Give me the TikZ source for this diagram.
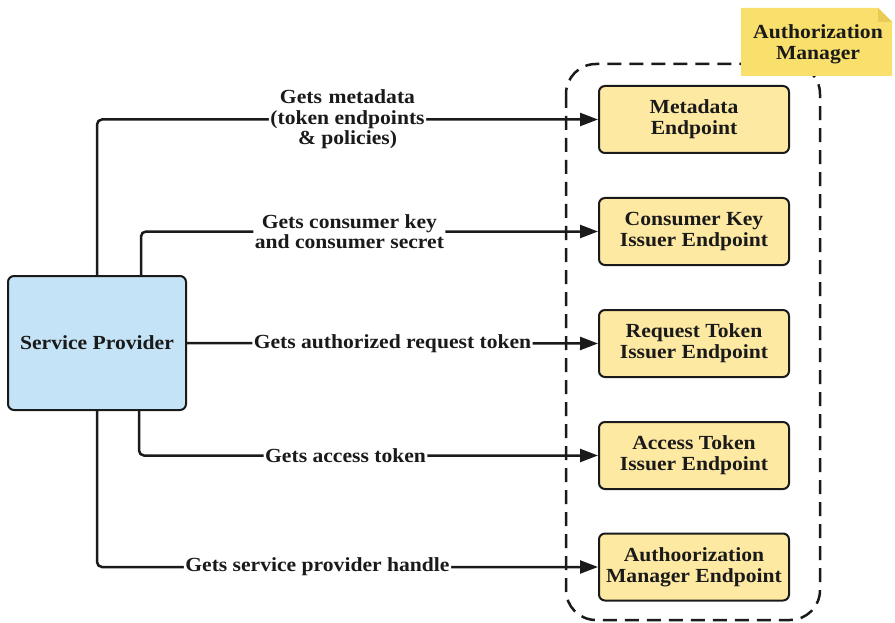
\documentclass[tikz,border=0pt]{standalone}
\usepackage{fontspec}
\setmainfont[FakeStretch=1.08]{Liberation Serif}
\usetikzlibrary{arrows.meta}
\definecolor{spblue}{HTML}{C4E3F6}
\definecolor{epyellow}{HTML}{FDE9A2}
\definecolor{noteyellow}{HTML}{F9DF6B}
\definecolor{notefold}{HTML}{E9CC55}
\definecolor{ink}{HTML}{1A1A1A}
\tikzset{
  spbox/.style={draw=ink, line width=2pt, rounded corners=6pt, fill=spblue, minimum width=178pt, minimum height=134pt, inner sep=0pt, font=\bfseries\fontsize{20}{22}\selectfont, text=ink},
  epbox/.style={draw=ink, line width=2pt, rounded corners=6pt, fill=epyellow, minimum width=190pt, minimum height=67pt, inner sep=0pt, align=center, font=\bfseries\fontsize{20}{21}\selectfont, text=ink},
  lbl/.style={fill=white, inner sep=1.5pt, align=center, font=\bfseries\fontsize{20}{20.5}\selectfont, text=ink},
  conn/.style={draw=ink, line width=2.5pt, rounded corners=5pt, -{Triangle[length=18pt,width=13pt]}},
}
\begin{document}
\begin{tikzpicture}[x=1pt,y=-1pt]
\useasboundingbox (0,0) rectangle (895,623);
% dashed container
\draw[ink, line width=2.5pt, dash pattern=on 14pt off 8pt, rounded corners=30pt] (566,64) rectangle (820,620);
% note
\fill[noteyellow] (741,8) -- (878,8) -- (892,22) -- (892,76) -- (741,76) -- cycle;
\fill[notefold] (878,8) -- (878,22) -- (892,22) -- cycle;
\node[font=\bfseries\fontsize{20}{21}\selectfont, text=ink, align=center] (am) at (818,44) {Authorization\\Manager};
% service provider
\node[spbox] (sp) at (97,343) {Service Provider};
% endpoints
\node[epbox] (e1) at (694,119.5) {Metadata\\Endpoint};
\node[epbox] (e2) at (694,231.5) {Consumer Key\\Issuer Endpoint};
\node[epbox] (e3) at (694,343.5) {Request Token\\Issuer Endpoint};
\node[epbox] (e4) at (694,455.5) {Access Token\\Issuer Endpoint};
\node[epbox] (e5) at (694,567) {Authoorization\\Manager Endpoint};
% connectors
\coordinate (s1) at (97,276);
\coordinate (s2) at (141,276);
\coordinate (s4) at (139,410);
\coordinate (s5) at (97,410);
\draw[conn] (s1) |- (e1.west) node[lbl, pos=0.75] {Gets\,\,metadata\\(token endpoints\\\& policies)};
\draw[conn] (s2) |- (e2.west) node[lbl, pos=0.728] {Gets consumer key\\and consumer secret};
\draw[conn] (sp.east) -- (e3.west) node[lbl, midway] {Gets authorized request token};
\draw[conn] (s4) |- (e4.west) node[lbl, pos=0.725] {Gets access token};
\draw[conn] (s5) |- (e5.west) node[lbl, pos=0.72] {Gets service provider handle};
\end{tikzpicture}
\end{document}
